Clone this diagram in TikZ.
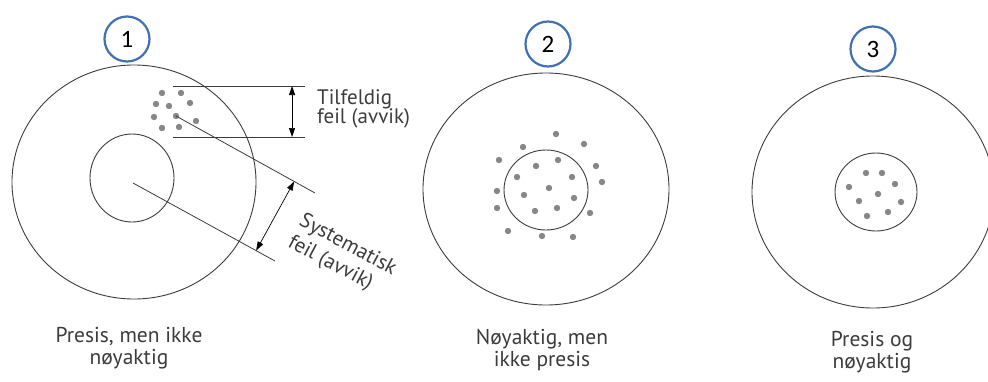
\documentclass[tikz,border=0pt]{standalone}
\usepackage{fontspec}
\setmainfont{PT Sans}
\newfontfamily\numfont{Carlito}
\usetikzlibrary{arrows.meta, calc}
\definecolor{badgeblue}{RGB}{65, 113, 178}
\definecolor{dotgray}{RGB}{135, 135, 135}
\definecolor{inkgray}{RGB}{60, 60, 60}

\begin{document}
\begin{tikzpicture}[x=1pt, y=-1pt,
    ring/.style={draw=inkgray, line width=0.9pt},
    shot/.style={fill=dotgray},
    badge/.style={circle, draw=badgeblue, line width=2.2pt, fill=white, minimum size=45pt, inner sep=0pt, font=\numfont\fontsize{25}{25}\selectfont},
    caption/.style={align=center, text=inkgray, inner sep=0pt, font=\fontsize{21.5}{22}\selectfont},
    guide/.style={draw=inkgray, line width=0.8pt},
    dimarrow/.style={draw=black, line width=0.7pt, {Triangle[length=9pt,width=6pt]}-{Triangle[length=9pt,width=6pt]}}]
  \useasboundingbox (0,0) rectangle (988,381);

  % Target 1: precise, not accurate
  \draw[ring] (134,182) ellipse [x radius=122pt, y radius=117pt];
  \draw[ring] (132,178) ellipse [x radius=42pt, y radius=44pt];
  \foreach \p in {(162,93), (181,93), (156,104), (169,106), (190,103), (154,117), (176,116), (196,121), (162,128), (179,127)}
    \fill[shot] \p circle [radius=3.2pt];
  \node[badge] (b1) at (127,39) {1};
  \node[caption] (c1) at (129,348) {Presis, men ikke\\nøyaktig};

  % random error
  \coordinate (ta) at (173,86);
  \coordinate (tb) at (305,86);
  \coordinate (ua) at (173,137);
  \coordinate (ub) at (305,137);
  \draw[guide] (ta) -- (tb);
  \draw[guide] (ua) -- (ub);
  \draw[dimarrow] ($(ta)!0.902!(tb)$) -- ($(ua)!0.902!(ub)$);
  \node[anchor=west, align=left, inner sep=0pt, text=inkgray, font=\fontsize{21}{19.5}\selectfont] (rnd) at (317,109) {Tilfeldig\\feil (avvik)};

  % systematic error
  \coordinate (ca) at (133,183);
  \coordinate (cb) at (275,261);
  \coordinate (da) at (176,116);
  \coordinate (db) at (315,193);
  \draw[guide] (ca) -- (cb);
  \draw[guide] (da) -- (db);
  \coordinate (sa) at ($(da)!0.85!(db)$);
  \coordinate (sb) at ($(ca)!(sa)!(cb)$);
  \draw[dimarrow] (sa) -- (sb);
  \node[rotate=-28, align=left, inner sep=0pt, text=inkgray, font=\fontsize{21}{24}\selectfont] (sys) at (342,256) {Systematisk\\feil (avvik)};

  % Target 2: accurate, not precise
  \draw[ring] (546,189) ellipse [x radius=123pt, y radius=116pt];
  \draw[ring] (546,190) ellipse [x radius=42pt, y radius=40pt];
  \foreach \p in {(556,134), (523,147), (584,144), (499,160), (558,160), (536,166), (596,166), (517,177), (572,177), (602,182), (549,188), (497,191), (524,195), (574,198), (497,208), (557,208), (535,211), (590,213), (508,231), (542,236), (573,237)}
    \fill[shot] \p circle [radius=3.2pt];
  \node[badge] (b2) at (548,44) {2};
  \node[caption] (c2) at (542,350) {Nøyaktig, men\\ikke presis};

  % Target 3: precise and accurate
  \draw[ring] (873,192) ellipse [x radius=121pt, y radius=116pt];
  \draw[ring] (876,192) ellipse [x radius=41pt, y radius=39pt];
  \foreach \p in {(866,173), (882,173), (895,184), (849,187), (878,194), (859,201), (901,202), (888,212), (867,216)}
    \fill[shot] \p circle [radius=3.2pt];
  \node[badge] (b3) at (873,49) {3};
  \node[caption] (c3) at (872,352) {Presis og\\nøyaktig};
\end{tikzpicture}
\end{document}
